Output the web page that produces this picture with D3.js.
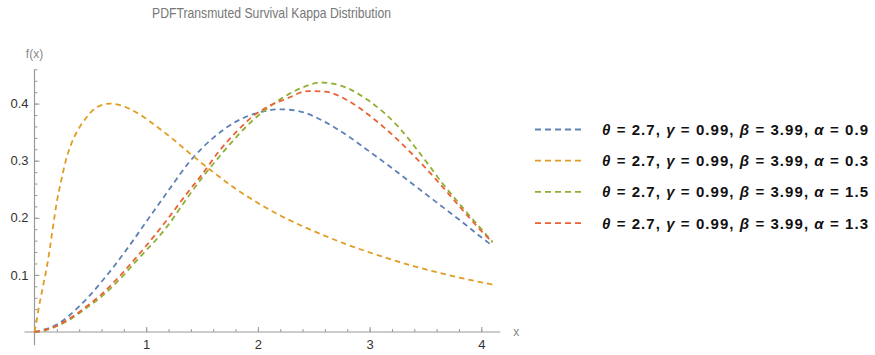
<!DOCTYPE html>
<meta charset="utf-8">
<style>
body { margin: 0; background: #fff; }
svg { display: block; font-family: "Liberation Sans", Arial, sans-serif; }
.axis path { display: none; }
.axis line { stroke: #999; }
.axis text { fill: #333; font-size: 13px; }
.title { fill: #777; font-size: 14.5px; }
.alabel { fill: #888; font-size: 12px; }
.legend text { font-size: 15px; font-weight: bold; fill: #111; }
</style>
<body>
<svg width="875" height="355"></svg>
<script src="https://d3js.org/d3.v7.min.js"></script>
<script>
// parameters shared by all curves
var theta = 2.7, gamma = 0.99, beta = 3.99;
var alphas = [0.9, 0.3, 1.5, 1.3];
var colors = ["#5E81B5", "#E19C24", "#8FB032", "#EB6235"];

// values
var blueX = [0, 0.1, 0.2, 0.3, 0.4, 0.5, 0.6, 0.7, 0.8, 0.9, 1.0, 1.2, 1.4, 1.6, 1.8, 2.0, 2.2, 2.4, 2.6, 2.8, 3.0, 3.2, 3.4, 3.6, 3.8, 4.0, 4.1];
var blueY = [0, 0.005, 0.013, 0.027, 0.045, 0.065, 0.088, 0.112, 0.138, 0.165, 0.193, 0.248, 0.301, 0.340, 0.368, 0.384, 0.390, 0.385, 0.368, 0.344, 0.316, 0.287, 0.257, 0.227, 0.197, 0.166, 0.151];

var orangeX = [0, 0.01, 0.02, 0.04, 0.06, 0.08, 0.11, 0.14, 0.17, 0.20, 0.24, 0.28, 0.33, 0.39, 0.47, 0.56, 0.68, 0.80, 0.95, 1.10, 1.25, 1.42, 1.60, 1.80, 2.00, 2.20, 2.45, 2.80, 3.10, 3.40, 3.70, 4.05, 4.10];
var orangeY = [0, 0.010, 0.021, 0.045, 0.064, 0.084, 0.113, 0.150, 0.190, 0.228, 0.266, 0.300, 0.330, 0.354, 0.377, 0.394, 0.400, 0.395, 0.380, 0.359, 0.336, 0.308, 0.280, 0.251, 0.226, 0.204, 0.181, 0.153, 0.133, 0.115, 0.100, 0.085, 0.083];

var greenX = [0, 0.1, 0.2, 0.3, 0.4, 0.5, 0.6, 0.7, 0.8, 0.9, 1.0, 1.1, 1.2, 1.35, 1.5, 1.65, 1.8, 1.95, 2.1, 2.3, 2.45, 2.56, 2.75, 3.0, 3.25, 3.45, 3.65, 3.85, 4.1];
var greenY = [0, 0.003, 0.010, 0.020, 0.033, 0.047, 0.062, 0.080, 0.100, 0.122, 0.143, 0.164, 0.188, 0.230, 0.270, 0.306, 0.340, 0.370, 0.394, 0.419, 0.432, 0.437, 0.431, 0.404, 0.361, 0.313, 0.261, 0.214, 0.158];

var redX = [0, 0.1, 0.2, 0.3, 0.4, 0.5, 0.6, 0.7, 0.8, 0.9, 1.0, 1.1, 1.2, 1.35, 1.5, 1.65, 1.8, 1.95, 2.1, 2.25, 2.45, 2.6, 2.8, 3.0, 3.2, 3.4, 3.6, 3.8, 4.0, 4.1];
var redY = [0, 0.004, 0.011, 0.022, 0.035, 0.050, 0.066, 0.085, 0.106, 0.128, 0.151, 0.175, 0.200, 0.239, 0.276, 0.316, 0.349, 0.377, 0.396, 0.408, 0.422, 0.421, 0.406, 0.379, 0.346, 0.308, 0.266, 0.221, 0.177, 0.157];

var xTicks = [1, 2, 3, 4];
var yTicks = [0.1, 0.2, 0.3, 0.4];

var series = [[blueX, blueY], [orangeX, orangeY], [greenX, greenY], [redX, redY]];

var svg = d3.select("svg");

var x = d3.scaleLinear().domain([0, 4]).range([34.5, 481.3]);
var y = d3.scaleLinear().domain([0, 0.4]).range([332, 103.6]);

// axis lines, a bit past the origin like Mathematica
svg.append("line")
    .attr("x1", x(-0.09)).attr("x2", x(4.17))
    .attr("y1", y(0)).attr("y2", y(0))
    .attr("stroke", "#999").attr("stroke-width", 1.2);
svg.append("line")
    .attr("x1", x(0)).attr("x2", x(0))
    .attr("y1", y(-0.023)).attr("y2", y(0.46))
    .attr("stroke", "#999").attr("stroke-width", 1.2);

// minor ticks
svg.append("g")
    .attr("class", "axis")
    .attr("transform", "translate(0," + y(0) + ")")
    .call(d3.axisBottom(x).tickValues(d3.range(0.2, 4.1, 0.2)).tickSize(-3).tickFormat(""));
svg.append("g")
    .attr("class", "axis")
    .attr("transform", "translate(" + x(0) + ",0)")
    .call(d3.axisLeft(y).tickValues(d3.range(0.02, 0.461, 0.02)).tickSize(-3).tickFormat(""));

// major ticks
svg.append("g")
    .attr("class", "axis")
    .attr("transform", "translate(0," + y(0) + ")")
    .call(d3.axisBottom(x).tickValues(xTicks).tickSize(-5).tickPadding(8).tickFormat(d3.format("d")));
svg.append("g")
    .attr("class", "axis")
    .attr("transform", "translate(" + x(0) + ",0)")
    .call(d3.axisLeft(y).tickValues(yTicks).tickSize(-5).tickPadding(6).tickFormat(d3.format(".1f")));

svg.append("text").attr("class", "alabel")
    .attr("x", x(0)).attr("y", 58).attr("text-anchor", "middle").text("f(x)");
svg.append("text").attr("class", "alabel")
    .attr("x", x(4.17) + 16).attr("y", y(0) + 4).attr("text-anchor", "middle").text("x");

svg.append("text").attr("class", "title")
    .attr("x", 152).attr("y", 18)
    .attr("textLength", 239).attr("lengthAdjust", "spacingAndGlyphs")
    .text("PDFTransmuted Survival Kappa Distribution");

var line = d3.line()
    .x(function(d) { return x(d[0]); })
    .y(function(d) { return y(d[1]); })
    .curve(d3.curveMonotoneX);

series.forEach(function(s, i) {
  var pts = s[0].map(function(v, j) { return [v, s[1][j]]; });
  svg.append("path")
      .datum(pts)
      .attr("fill", "none")
      .attr("stroke", colors[i])
      .attr("stroke-width", 1.8)
      .attr("stroke-dasharray", "5.5,4")
      .attr("d", line);
});

// legend
var legend = svg.append("g").attr("class", "legend");
alphas.forEach(function(a, i) {
  var ly = 129.5 + i * 31.2;
  legend.append("line")
      .attr("x1", 535).attr("x2", 585).attr("y1", ly).attr("y2", ly)
      .attr("stroke", colors[i]).attr("stroke-width", 1.8)
      .attr("stroke-dasharray", "6,4");
  var t = legend.append("text").attr("x", 602).attr("y", ly + 5.5)
      .attr("textLength", 266).attr("lengthAdjust", "spacing");
  var parts = [["θ", true], [" = " + theta + ",  ", false],
               ["γ", true], [" = " + gamma + ",  ", false],
               ["β", true], [" = " + beta + ",  ", false],
               ["α", true], [" = " + a, false]];
  parts.forEach(function(p) {
    t.append("tspan").attr("font-style", p[1] ? "italic" : null).text(p[0]);
  });
});
</script>
</body>
